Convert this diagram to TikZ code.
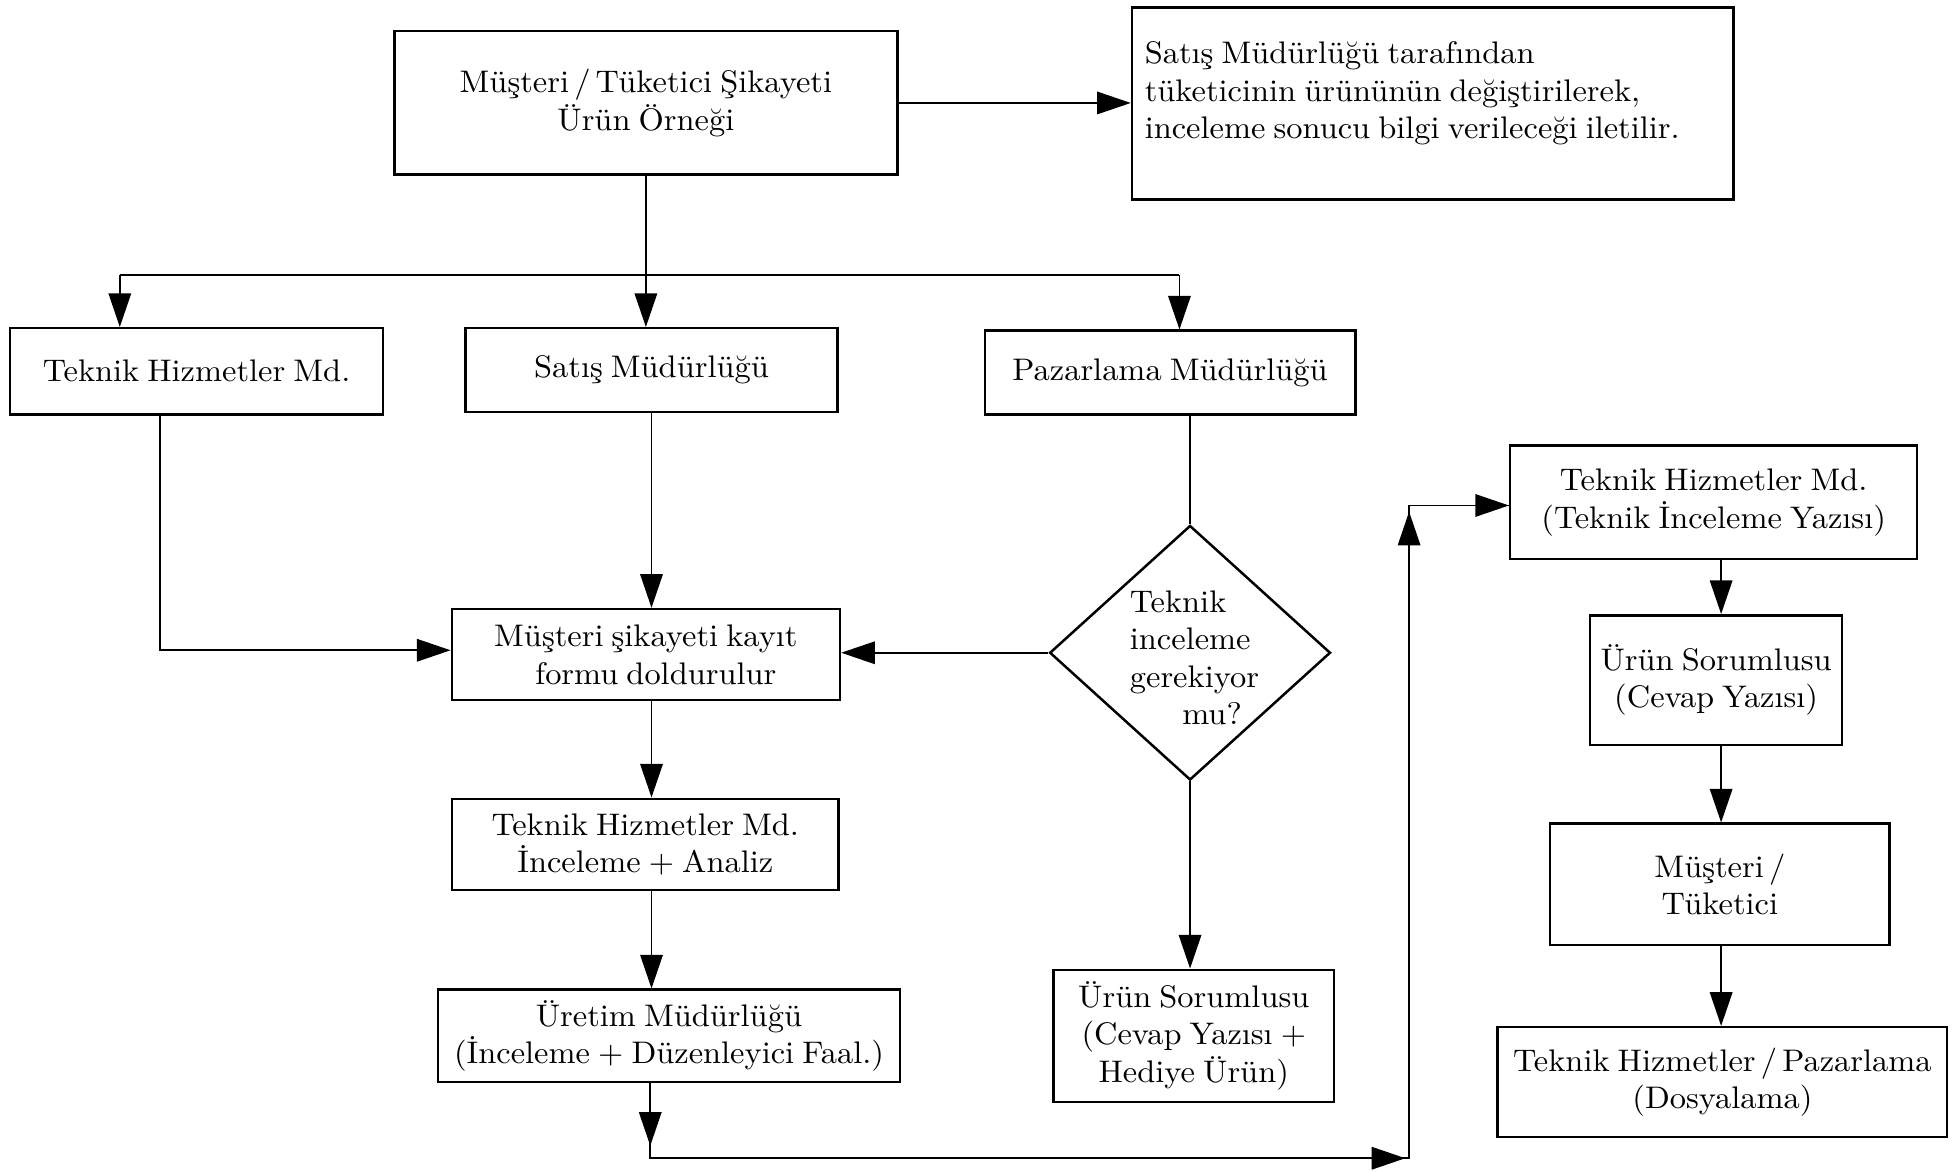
\documentclass[tikz,border=0pt]{standalone}
\usepackage{fontspec}
\setmainfont{lmroman10-regular.otf}[FakeStretch=1.04, WordSpace=0.75]
\usetikzlibrary{arrows.meta,shapes.geometric}
\begin{document}
\begin{tikzpicture}[x=1pt,y=-1pt,
  font=\fontsize{25}{30}\selectfont,
  box/.style={draw, line width=2pt, inner sep=0pt, align=center},
  conn/.style={line width=1.5pt},
  arr/.style={conn, -{Triangle[length=27pt,width=18pt]}},
]
\useasboundingbox (0,0) rectangle (1568,939);

% top row
\node[box, minimum width=403pt, minimum height=115pt] (A) at (517.5,82.5)
  {Müşteri\,/\,Tüketici Şikayeti\\Ürün Örneği};
\node[box, minimum width=482pt, minimum height=154pt] (B) at (1148,83) {};
\node[align=left, anchor=west, inner sep=0pt] (Bt) at (917,75)
  {Satış Müdürlüğü tarafından\\tüketicinin ürününün değiştirilerek,\\inceleme sonucu bilgi verileceği iletilir.};

% second row
\node[box, minimum width=299pt, minimum height=69pt] (C) at (157.5,297.5) {Teknik Hizmetler Md.};
\node[box, minimum width=298pt, minimum height=67pt] (D) at (522,296.5) {Satış Müdürlüğü};
\node[box, minimum width=297pt, minimum height=67pt] (E) at (937.5,298.5) {Pazarlama Müdürlüğü};

% middle column
\node[box, minimum width=311pt, minimum height=73pt] (F) at (517.5,524.5)
  {Müşteri şikayeti kayıt\\\hspace*{16pt}formu doldurulur};
\node[box, minimum width=310pt, minimum height=73pt] (I) at (517,676.5)
  {Teknik Hizmetler Md.\\İnceleme + Analiz};
\node[box, minimum width=370pt, minimum height=74pt] (J) at (536,830)
  {Üretim Müdürlüğü\\(İnceleme + Düzenleyici Faal.)};

% decision
\node[draw, diamond, line width=2pt, inner sep=0pt, minimum width=225pt, minimum height=204pt] (G) at (953.5,523) {};
\node[align=left, inner sep=0pt] (Gt) at (957,527)
  {Teknik\\inceleme\\gerekiyor\\\hspace*{42pt}mu?};
\node[box, minimum width=225pt, minimum height=106pt] (H) at (956.5,830)
  {Ürün Sorumlusu\\(Cevap Yazısı +\\Hediye Ürün)};

% right column
\node[box, minimum width=326pt, minimum height=91pt] (K) at (1373,402.5)
  {Teknik Hizmetler Md.\\(Teknik İnceleme Yazısı)};
\node[box, minimum width=202pt, minimum height=104pt] (L) at (1375,545)
  {Ürün Sorumlusu\\(Cevap Yazısı)};
\node[box, minimum width=272pt, minimum height=97pt] (M) at (1378,708.5)
  {Müşteri\,/\\Tüketici};
\node[box, minimum width=360pt, minimum height=88pt] (N) at (1380,867)
  {Teknik Hizmetler\,/\,Pazarlama\\(Dosyalama)};

% routing points
\coordinate (h1) at (96,220);
\coordinate (h2) at (945,220);
\coordinate (cf) at (128,521);
\coordinate (col) at (522,0);
\coordinate (rc) at (1379,0);
\coordinate (c1) at (521,928);
\coordinate (c2) at (1129,928);
\coordinate (c3) at (1129,405);
\coordinate (t1) at (521,918);
\coordinate (t2) at (1126,928);
\coordinate (t3) at (1129,410);

% connectors
\draw[arr] (A.east) -- (A.east -| B.west);
\draw[conn] (A.south) -- (A.south |- h1);
\draw[conn] (h1) -- (h2);
\draw[arr] (h1) -- (h1 |- C.north);
\draw[arr] (A.south) -- (A.south |- D.north);
\draw[arr] (h2) -- (h2 |- E.north);

\draw[arr] (C.south -| cf) -- (cf) -- (cf -| F.west);
\draw[arr] (D.south) -- (D.south |- F.north);
\draw[conn] (E.south -| G.north) -- (G.north);
\draw[arr] (G.west) -- (G.west -| F.east);
\draw[arr] (G.south) -- (G.south |- H.north);

\draw[arr] (F.south -| col) -- (I.north -| col);
\draw[arr] (I.south -| col) -- (J.north -| col);

\draw[conn] (J.south -| c1) -- (c1) -- (c2) -- (c3) -- (c3 -| K.west);
\draw[arr] (J.south -| c1) -- (t1);
\draw[arr] (c1) -- (t2);
\draw[arr] (c2) -- (t3);
\draw[arr] (c3) -- (c3 -| K.west);

\draw[arr] (K.south -| rc) -- (L.north -| rc);
\draw[arr] (L.south -| rc) -- (M.north -| rc);
\draw[arr] (M.south -| rc) -- (N.north -| rc);
\end{tikzpicture}
\end{document}
